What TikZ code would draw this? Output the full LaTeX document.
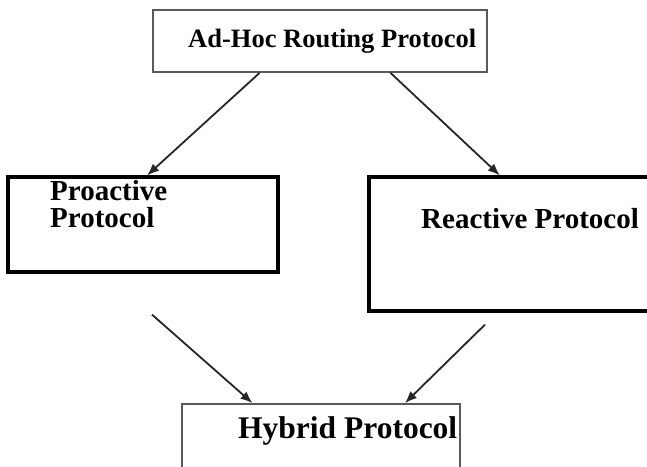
\documentclass[tikz,border=0pt]{standalone}
\usepackage{fontspec}
\setmainfont{Liberation Serif}
\usetikzlibrary{arrows.meta,calc}

\begin{document}
\begin{tikzpicture}[
  x=1pt,y=-1pt,
  box/.style={draw,rectangle,inner sep=0pt},
  thickbox/.style={box,line width=3.2pt},
  thinbox/.style={box,draw=black!65,line width=1.8pt},
  arr/.style={-{Latex[length=12pt,width=9.5pt]},draw=black!85,line width=1.8pt},
  lbl/.style={font=\bfseries\fontsize{29}{27}\selectfont,inner sep=0pt,anchor=base west,align=left}
]
\useasboundingbox (0,0) rectangle (647,466);
\clip (0,0) rectangle (647,466);
% boxes
\node[thinbox,minimum width=334pt,minimum height=62pt] (adhoc) at (320,41) {};
\node[thickbox,minimum width=270pt,minimum height=95pt] (proactive) at (143,224.5) {};
\node[thickbox,minimum width=291pt,minimum height=134pt] (reactive) at (514.5,244) {};
\node[thinbox,minimum width=278pt,minimum height=86pt] (hybrid) at (321,447) {};
% labels
\node[lbl,font=\bfseries\fontsize{26.5}{28}\selectfont] (adhoctxt) at (188,47) {Ad-Hoc Routing Protocol};
\node[lbl] (protxt) at (50,227) {Proactive\\Protocol};
\node[lbl] (retxt) at (421,228) {Reactive Protocol};
\node[lbl,font=\bfseries\fontsize{31.5}{31}\selectfont] (hytxt) at (238,438) {Hybrid Protocol};
% connectors
\coordinate (pstart) at ($(proactive.south)+(9,41)$);
\coordinate (rstart) at ($(reactive.south)+(-29.5,12)$);
\draw[arr] ($(adhoc.south west)!0.32!(adhoc.south east)$) -- ($(proactive.north west)!0.515!(proactive.north east)$);
\draw[arr] ($(adhoc.south west)!0.71!(adhoc.south east)$) -- ($(reactive.north west)!0.45!(reactive.north east)$);
\draw[arr] (pstart) -- ($(hybrid.north west)!0.255!(hybrid.north east)$);
\draw[arr] (rstart) -- ($(hybrid.north west)!0.80!(hybrid.north east)$);
\end{tikzpicture}
\end{document}
